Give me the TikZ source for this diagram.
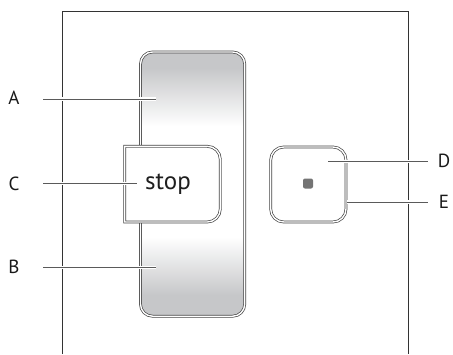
\documentclass[tikz,border=0pt]{standalone}
\usepackage{fontspec}
\setmainfont{PT Sans}
\definecolor{framec}{HTML}{333333}
\definecolor{borderc}{HTML}{444444}
\definecolor{leadc}{HTML}{5A5A5A}
\definecolor{rgray}{RGB}{198,199,201}
\definecolor{ledc}{HTML}{747474}
\pgfdeclareverticalshading{rockershade}{100bp}{color(0bp)=(rgray); color(25bp)=(rgray); color(29bp)=(rgray); color(40bp)=(white); color(61bp)=(white); color(72bp)=(rgray); color(75bp)=(rgray); color(100bp)=(rgray)}
\tikzset{
  frameline/.style={draw=framec, line width=0.9pt},
  dbl/.style={draw=borderc, line width=0.7pt, double=white, double distance=1.4pt},
  leader/.style={draw=leadc, line width=0.9pt, preaction={draw=white, line width=3.2pt}},
  lbl/.style={font=\fontsize{19}{19}\selectfont, text=black!90, inner sep=0pt},
}
\begin{document}
\begin{tikzpicture}[x=1pt,y=-1pt]
\useasboundingbox (0,0) rectangle (453,354);
% frame
\draw[frameline] (62.7,354) -- (62.7,11) -- (408.7,11) -- (408.7,354);
% rocker
\path[shading=rockershade] (140.5,64) -- (140.5,304.2) arc[start angle=180,end angle=90,radius=12] -- (232.7,316.2) arc[start angle=90,end angle=0,radius=12] -- (244.7,64) arc[start angle=0,end angle=-90,radius=12] -- (152.5,52) arc[start angle=-90,end angle=-180,radius=12] -- cycle;
\draw[dbl] (140.5,64) -- (140.5,304.2) arc[start angle=180,end angle=90,radius=12] -- (232.7,316.2) arc[start angle=90,end angle=0,radius=12] -- (244.7,64) arc[start angle=0,end angle=-90,radius=12] -- (152.5,52) arc[start angle=-90,end angle=-180,radius=12] -- cycle;
% stop button
\draw[dbl, fill=white] (124.7,146.3) -- (207.3,146.3) arc[start angle=-90,end angle=0,radius=13] -- (220.3,209) arc[start angle=0,end angle=90,radius=13] -- (124.7,222) -- cycle;
\node[font=\fontsize{25}{25}\selectfont, text=black!88, inner sep=0pt] (stop) at (168,184) {stop};
% right button
\draw[dbl, fill=white] (270.7,160) -- (270.7,209) arc[start angle=180,end angle=90,radius=13] -- (333,222) arc[start angle=90,end angle=0,radius=13] -- (346,160) arc[start angle=0,end angle=-90,radius=13] -- (283.7,147) arc[start angle=-90,end angle=-180,radius=13] -- cycle;
\node[draw=none, fill=ledc, rounded corners=2pt, minimum size=10pt, inner sep=0pt] (led) at (308,183.5) {};
% labels
\node[lbl] (A) at (14,98) {A};
\node[lbl] (C) at (14,183.5) {C};
\node[lbl] (B) at (14,267) {B};
\node[lbl] (D) at (444,161) {D};
\node[lbl] (E) at (444,201.5) {E};
% leader ends
\coordinate (a1) at (43,99);   \coordinate (a2) at (156,99);
\coordinate (c1) at (43,183.3); \coordinate (c2) at (136.7,183.3);
\coordinate (b1) at (43,267.5); \coordinate (b2) at (156,267.5);
\coordinate (d1) at (427.7,161.7); \coordinate (d2) at (328,161.7);
\coordinate (e1) at (427.7,202); \coordinate (e2) at (346.7,202);
\draw[leader] (a1) -- (a2);
\draw[leader] (c1) -- (c2);
\draw[leader] (b1) -- (b2);
\draw[leader] (d1) -- (d2);
\draw[leader] (e1) -- (e2);
\end{tikzpicture}
\end{document}
